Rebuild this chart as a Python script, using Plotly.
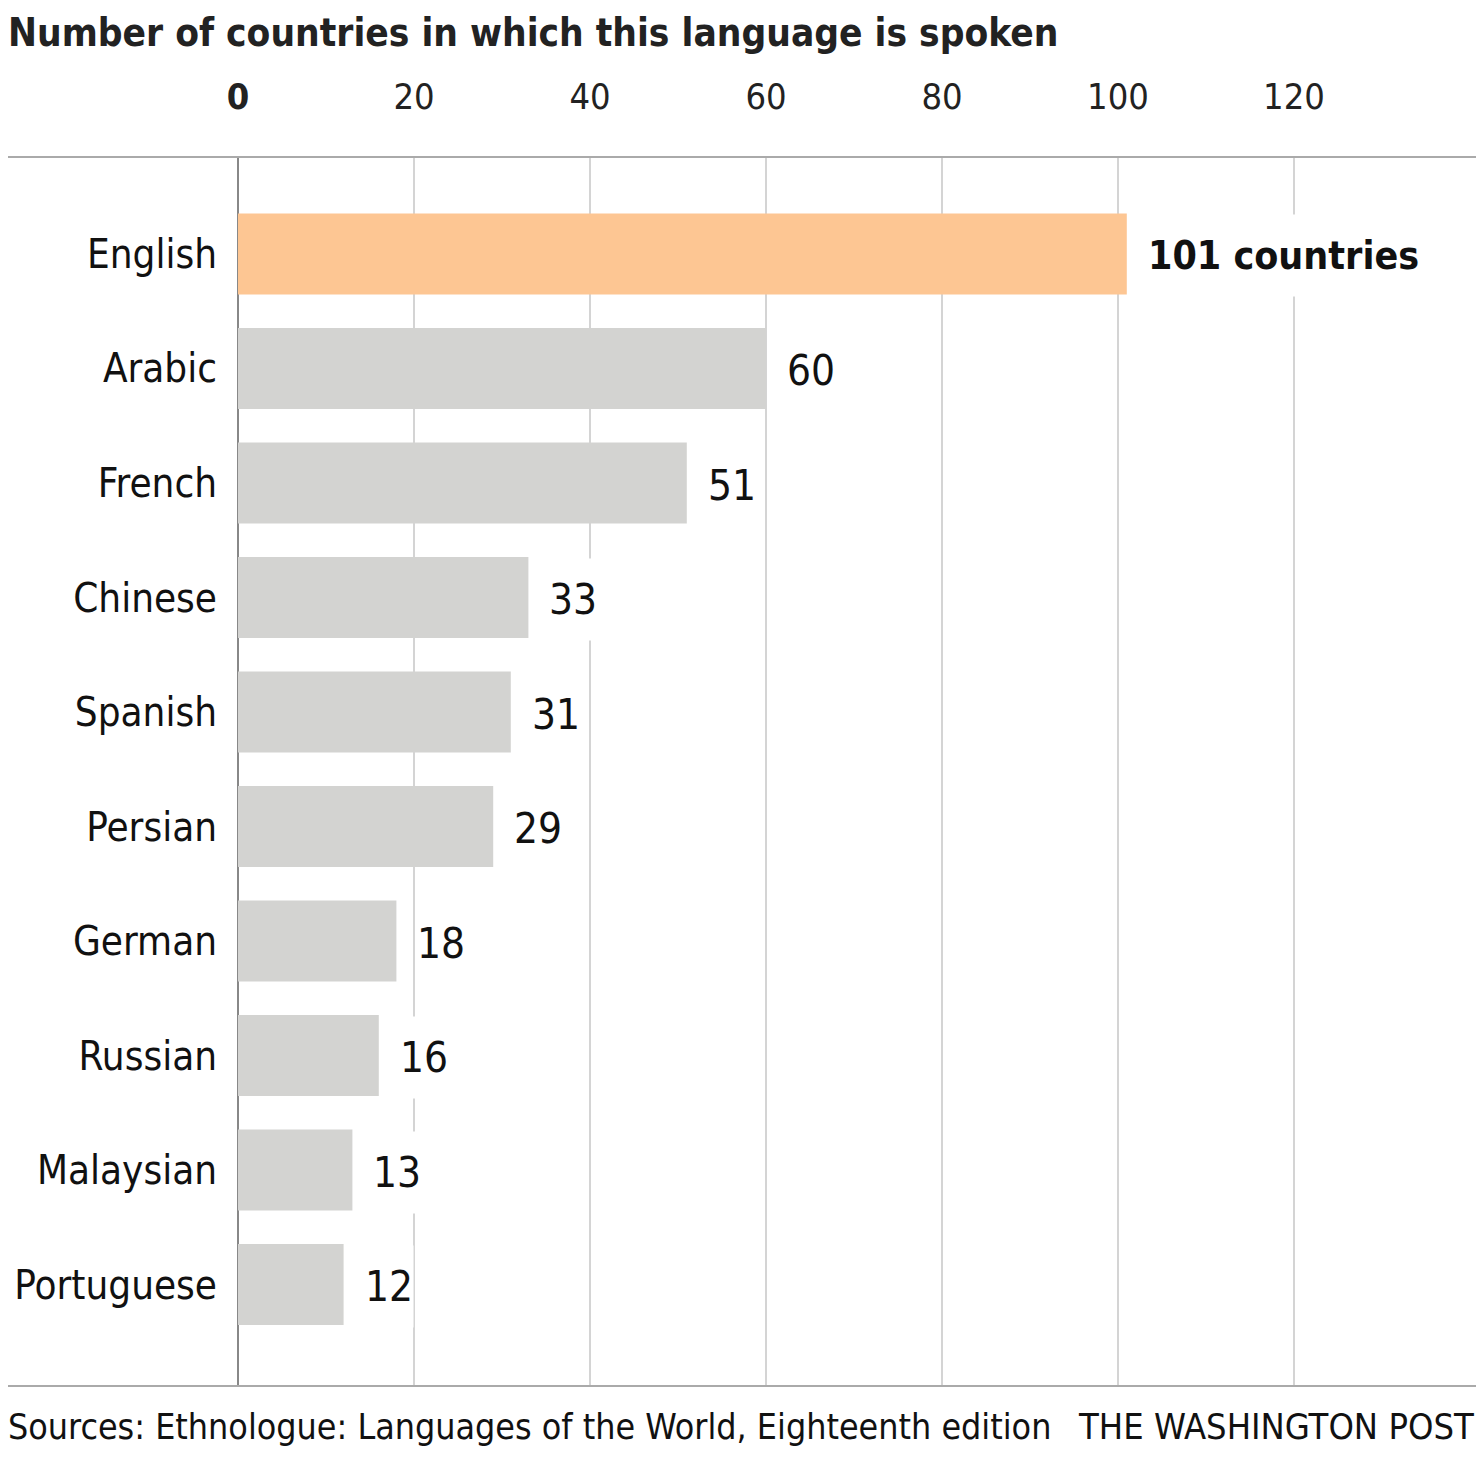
import plotly.graph_objects as go

languages = ["English", "Arabic", "French", "Chinese", "Spanish", "Persian",
             "German", "Russian", "Malaysian", "Portuguese"]
countries = [101, 60, 51, 33, 31, 29, 18, 16, 13, 12]
value_labels = ["<b>101 countries</b>", "60", "51", "33", "31", "29", "18", "16", "13", "12"]
tick_vals = [0, 20, 40, 60, 80, 100, 120]
tick_text = ["<b>0</b>", "20", "40", "60", "80", "100", "120"]

# page has an 8px body margin, so the figure is drawn 8px smaller and shifted
OFF = 8
W, H = 1484 - OFF, 1467 - OFF
FONT = "DejaVu Sans Condensed, Liberation Sans Narrow, sans-serif"


def px_x(p):
    return (p - OFF) / W


def px_y(p):
    return 1 - (p - OFF) / H


colors = ["#fdc693"] + ["#d3d3d1"] * (len(languages) - 1)

fig = go.Figure(go.Bar(
    x=countries, y=languages, orientation="h",
    marker=dict(color=colors, line=dict(width=0)),
    width=0.707, hoverinfo="skip",
))

# value labels with white box to break gridlines
for lang, val, lab in zip(languages, countries, value_labels):
    fig.add_annotation(
        x=val, y=lang, xref="x", yref="y", text=lab, showarrow=False,
        xanchor="left", xshift=20, yshift=-2, height=81, bgcolor="white",
        borderpad=0, font=dict(family=FONT, size=39 if val == 101 else 42, color="#111"),
    )

# title and footer
fig.add_annotation(
    x=px_x(6), y=px_y(32), xref="paper", yref="paper", xanchor="left", yanchor="middle",
    text="<b>Number of countries in which this language is spoken</b>", showarrow=False,
    font=dict(family=FONT, size=38.5, color="#222"),
)
fig.add_annotation(
    x=px_x(6), y=px_y(1426), xref="paper", yref="paper", xanchor="left", yanchor="middle",
    text="Sources: Ethnologue: Languages of the World, Eighteenth edition", showarrow=False,
    font=dict(family=FONT, size=35.5, color="#111"),
)
fig.add_annotation(
    x=px_x(1476), y=px_y(1426), xref="paper", yref="paper", xanchor="right", yanchor="middle",
    text="THE WASHINGTON POST", showarrow=False,
    font=dict(family=FONT, size=36, color="#111"),
)

# horizontal rules across the full width
for yp in (157, 1386):
    fig.add_shape(type="line", xref="paper", yref="paper", x0=0, x1=1,
                  y0=px_y(yp), y1=px_y(yp), line=dict(color="#aaaaaa", width=2))

fig.update_layout(
    template="none",
    width=W, height=H,
    margin=dict(l=0, r=0, t=0, b=0, pad=0),
    paper_bgcolor="white", plot_bgcolor="white",
    showlegend=False,
    font=dict(family=FONT, color="#111"),
    xaxis=dict(
        domain=[px_x(238), 1], range=[0, (1484 - 238) / 8.8], automargin=False,
        side="top", tickvals=tick_vals, ticktext=tick_text,
        tickfont=dict(family=FONT, size=36, color="#222"),
        ticks="", ticklabelstandoff=40,
        showgrid=True, gridcolor="#d4d4d4", gridwidth=1.5,
        zeroline=True, zerolinecolor="#888888", zerolinewidth=2,
        showline=False, fixedrange=True,
    ),
    yaxis=dict(
        domain=[px_y(1386), px_y(157)], automargin=False,
        range=[9.886, -0.847], type="category",
        tickfont=dict(family=FONT, size=40, color="#111"),
        ticks="", ticklabelstandoff=20,
        showgrid=False, zeroline=False, showline=False, fixedrange=True,
    ),
)

fig.write_html("out.html")
